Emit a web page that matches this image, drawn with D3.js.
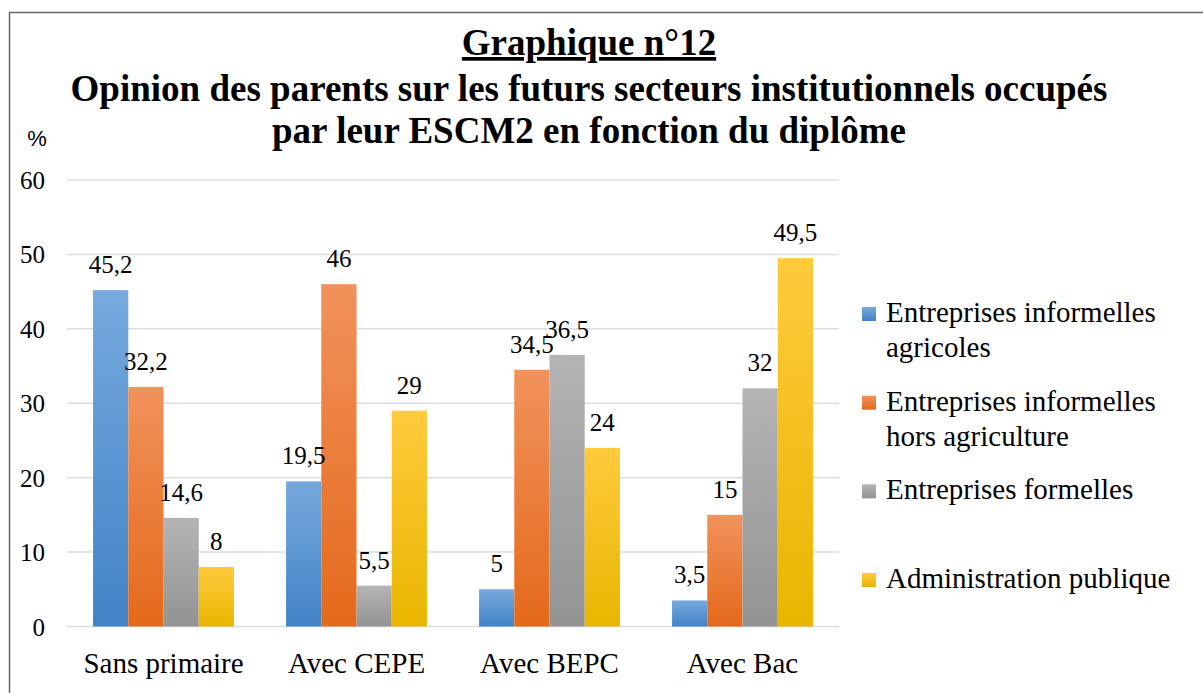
<!DOCTYPE html>
<html>
<head>
<meta charset="utf-8">
<script src="https://cdn.jsdelivr.net/npm/d3@7"></script>
<style>
    body { margin: 0; background: #fff; }
    svg { display: block; }
</style>
</head>
<body>
<div id="chart"></div>
<script>
// données du graphique n°12
const categories = ['Sans primaire', 'Avec CEPE', 'Avec BEPC', 'Avec Bac'];
const seriesNames = ['Entreprises informelles agricoles', 'Entreprises informelles hors agriculture', 'Entreprises formelles', 'Administration publique'];
const legendLines = [['Entreprises informelles', 'agricoles'], ['Entreprises informelles', 'hors agriculture'], ['Entreprises formelles'], ['Administration publique']];
const informellesAgricoles = [45.2, 19.5, 5, 3.5];
const informellesHorsAgri = [32.2, 46, 34.5, 15];
const formelles = [14.6, 5.5, 36.5, 32];
const administration = [8, 29, 24, 49.5];
const yTicks = [0, 10, 20, 30, 40, 50, 60];

const seriesValues = [informellesAgricoles, informellesHorsAgri, formelles, administration];

const serif = 'Liberation Serif';
const sans = 'Liberation Sans';

// couleurs (haut clair -> bas foncé)
const colors = [
    { top: '#76a9de', bottom: '#4283c6' },
    { top: '#f1925c', bottom: '#e4691a' },
    { top: '#b4b4b4', bottom: '#939393' },
    { top: '#ffca3c', bottom: '#e8b600' }
];

const width = 1203, height = 693;
const margin = { top: 180, right: 364, bottom: 66, left: 67 };

const svg = d3.select('#chart')
    .append('svg')
    .attr('width', width)
    .attr('height', height)
    .attr('font-family', serif);

const defs = svg.append('defs');
colors.forEach((c, i) => {
    const g = defs.append('linearGradient')
        .attr('id', 'grad' + i)
        .attr('x1', 0).attr('y1', 0)
        .attr('x2', 0).attr('y2', 1);
    g.append('stop').attr('offset', '0%').attr('stop-color', c.top);
    g.append('stop').attr('offset', '100%').attr('stop-color', c.bottom);
});

// cadre
svg.append('rect')
    .attr('x', 9.5)
    .attr('y', 12.5)
    .attr('width', 1400)
    .attr('height', 900)
    .attr('fill', 'none')
    .attr('stroke', '#666')
    .attr('stroke-width', 1.5);

// titres
svg.append('text')
    .attr('x', 589)
    .attr('y', 55)
    .attr('text-anchor', 'middle')
    .attr('font-size', 37)
    .attr('font-weight', 'bold')
    .attr('text-decoration', 'underline')
    .text('Graphique n°12');

svg.append('text')
    .attr('x', 589)
    .attr('y', 101)
    .attr('text-anchor', 'middle')
    .attr('font-size', 37)
    .attr('font-weight', 'bold')
    .text('Opinion des parents sur les futurs secteurs institutionnels occupés');

svg.append('text')
    .attr('x', 589)
    .attr('y', 143)
    .attr('text-anchor', 'middle')
    .attr('font-size', 37)
    .attr('font-weight', 'bold')
    .text('par leur ESCM2 en fonction du diplôme');

svg.append('text')
    .attr('x', 37)
    .attr('y', 146)
    .attr('text-anchor', 'middle')
    .attr('font-family', sans)
    .attr('font-size', 22)
    .text('%');

// échelles
const x0 = d3.scaleBand()
    .domain(categories)
    .range([margin.left, width - margin.right])
    .paddingInner(0.27)
    .paddingOuter(0.135);

const x1 = d3.scaleBand()
    .domain(d3.range(seriesValues.length))
    .range([0, x0.bandwidth()]);

const y = d3.scaleLinear()
    .domain([0, 60])
    .range([height - margin.bottom - 0.5, margin.top]);

// grille
svg.append('g')
    .selectAll('line')
    .data(yTicks)
    .enter()
    .append('line')
    .attr('x1', margin.left)
    .attr('x2', width - margin.right)
    .attr('y1', d => y(d))
    .attr('y2', d => y(d))
    .attr('stroke', '#dadee4')
    .attr('stroke-width', 1.5);

// axe vertical (étiquettes seulement)
const yAxis = svg.append('g')
    .attr('transform', `translate(${margin.left - 22},0)`)
    .call(d3.axisLeft(y).tickValues(yTicks).tickSize(0).tickPadding(0));
yAxis.select('.domain').remove();
yAxis.attr('font-family', serif).attr('font-size', 25);
yAxis.selectAll('text')
    .attr('fill', '#000')
    .attr('dy', '0.34em');

// barres
const fmt = v => String(v).replace('.', ',');

const groups = svg.append('g')
    .selectAll('g')
    .data(categories)
    .enter()
    .append('g')
    .attr('transform', d => `translate(${x0(d)},0)`);

groups.selectAll('rect')
    .data((d, ci) => seriesValues.map((vals, si) => ({ si, v: vals[ci] })))
    .enter()
    .append('rect')
    .attr('x', d => x1(d.si))
    .attr('width', x1.bandwidth())
    .attr('y', d => y(d.v))
    .attr('height', d => y(0) - y(d.v))
    .attr('fill', d => `url(#grad${d.si})`);

groups.selectAll('text')
    .data((d, ci) => seriesValues.map((vals, si) => ({ si, v: vals[ci] })))
    .enter()
    .append('text')
    .attr('x', d => x1(d.si) + x1.bandwidth() / 2)
    .attr('y', d => y(d.v) - 17)
    .attr('text-anchor', 'middle')
    .attr('font-size', 25)
    .text(d => fmt(d.v));

// axe horizontal (catégories)
const xAxis = svg.append('g')
    .attr('transform', `translate(0,${y(0)})`)
    .call(d3.axisBottom(x0).tickSize(0).tickPadding(0));
xAxis.select('.domain').remove();
xAxis.attr('font-family', serif).attr('font-size', 29);
xAxis.selectAll('text')
    .attr('fill', '#000')
    .attr('y', 46)
    .attr('dy', 0);

// légende
const legendY = d3.scaleLinear().domain([0, 3]).range([322, 588]);
const legend = svg.append('g')
    .selectAll('g')
    .data(legendLines)
    .enter()
    .append('g')
    .attr('transform', (d, i) => `translate(862,${legendY(i)})`);

legend.append('rect')
    .attr('x', 0)
    .attr('y', -15)
    .attr('width', 14)
    .attr('height', 14)
    .attr('fill', (d, i) => `url(#grad${i})`);

legend.append('text')
    .attr('x', 24)
    .attr('font-size', 29)
    .selectAll('tspan')
    .data(d => d)
    .enter()
    .append('tspan')
    .attr('x', 24)
    .attr('dy', (d, i) => i === 0 ? 0 : 35)
    .text(d => d);
</script>
</body>
</html>
